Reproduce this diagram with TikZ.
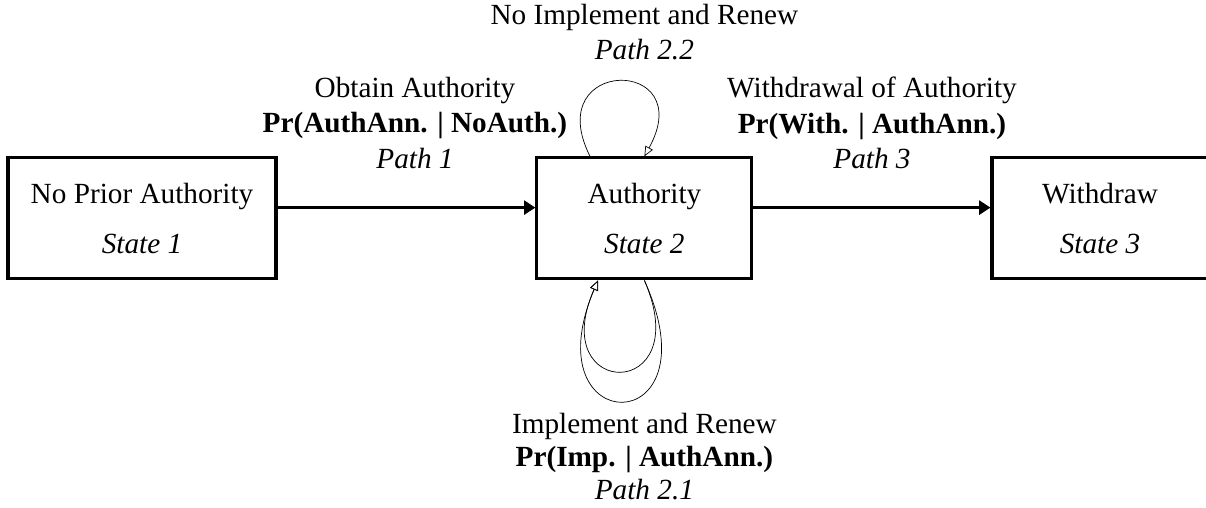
\documentclass[tikz,border=0pt]{standalone}
\usepackage{fontspec}
\setmainfont{Liberation Serif}
\usetikzlibrary{arrows.meta}
\begin{document}
\begin{tikzpicture}[line cap=butt,line join=miter,font=\fontsize{20.8}{25}\selectfont]
	\tikzset{statebox/.style={draw,line width=2.2pt,minimum height=3.025cm,align=center,inner sep=0pt},
		lbl/.style={align=center},
		flow/.style={line width=1.6pt,-{Triangle[length=8pt,width=10pt]}},
		selfarc/.style={line width=0.5pt,-{Triangle[open,length=7pt,width=6pt]}}
	}
	\useasboundingbox (0,0) rectangle (30.15,-12.7);
	% the three states
	\node[statebox,minimum width=6.7cm] (s1) at (3.55,-5.46) {No Prior Authority\\[10.6pt]\textit{State 1}};
	\node[statebox,minimum width=5.375cm] (s2) at (16.11,-5.46) {Authority\\[10.6pt]\textit{State 2}};
	\node[statebox,minimum width=5.4cm] (s3) at (27.5,-5.46) {Withdraw\\[10.6pt]\textit{State 3}};
	% transitions between states
	\draw[flow] ([yshift=0.27cm]s1.east) -- ([yshift=0.27cm]s2.west);
	\draw[flow] ([yshift=0.27cm]s2.east) -- ([yshift=0.27cm]s3.west);
	\node[lbl] (p1) at (10.375,-3.075) {Obtain Authority\\\textbf{Pr(AuthAnn. | NoAuth.)}\\\textit{Path 1}};
	\node[lbl] (p3) at (21.8,-3.075) {Withdrawal of Authority\\\textbf{Pr(With. | AuthAnn.)}\\\textit{Path 3}};
	% staying in state 2
	\draw[selfarc] ([xshift=-1.36cm]s2.north) .. controls +(-1.25,2.5) and +(1.375,2.5) .. (s2.north);
	\draw[selfarc] (s2.south) .. controls +(1.325,-3.05) and +(-1.325,-3.0) .. ([xshift=-1.16cm]s2.south);
	\draw[selfarc] (s2.south) .. controls +(1.825,-4.05) and +(-1.7,-4.0) .. ([xshift=-1.16cm]s2.south);
	\node[lbl] (p22) at (16.11,-0.81) {No Implement and Renew\\\textit{Path 2.2}};
	\node[lbl,font=\fontsize{20.8}{23.5}\selectfont] (p21) at (16.11,-11.42) {Implement and Renew\\\textbf{Pr(Imp. | AuthAnn.)}\\\textit{Path 2.1}};
\end{tikzpicture}
\end{document}
